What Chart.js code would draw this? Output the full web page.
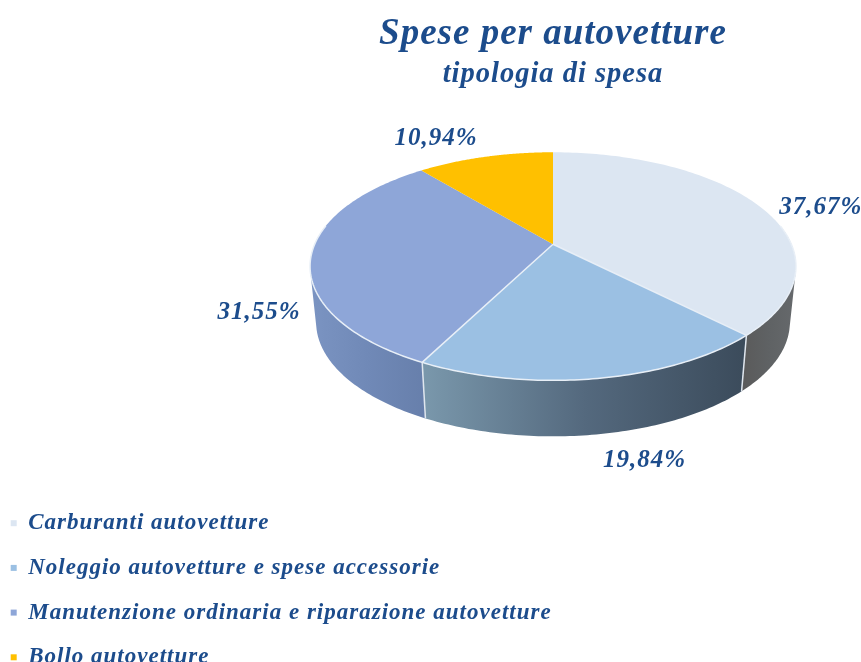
<!DOCTYPE html>
<html>
<head>
<meta charset="utf-8">
<title>Spese per autovetture</title>
<script src="https://cdn.jsdelivr.net/npm/chart.js@4"></script>
<style>
  html, body { margin: 0; padding: 0; background: #fff; }
  #wrap { width: 861px; height: 662px; overflow: hidden; }
</style>
</head>
<body>
<div id="wrap"><canvas id="chart" width="861" height="662"></canvas></div>
<script>
const categories = [
  "Carburanti autovetture",
  "Noleggio autovetture e spese accessorie",
  "Manutenzione ordinaria e riparazione autovetture",
  "Bollo autovetture"
];
const values = [37.67, 19.84, 31.55, 10.94];
const sliceColors = ["#dce6f2", "#9bc0e3", "#8ea6d8", "#ffc000"];

// side wall shading, left to right, one list per slice
const wallColors = [
  ["#5a5a5a", "#5f6264", "#66696c"],
  ["#7a98ac", "#54697e", "#3b4b5b"],
  ["#7b94c2", "#7089b7", "#677fab"],
  ["#c09000", "#c09000", "#c09000"]
];
// where each percent label sits relative to the rim of its slice
const labelOffsets = [[62, 2], [47, 82], [-52, 56], [-49, -18]];

const textColor = "#1c4c8c";

// fake 3D: the flat pie from Chart.js gets tilted with a small perspective
const tilt = 0.193;
const widthFactor = 1.561;
const heightFactor = 0.719;
const wallDepth = 56;
const wallShrink = 0.975;

function project(arc, angle) {
  const u = Math.cos(angle);
  const v = Math.sin(angle);
  const w = 1 - tilt * v;
  return {
    x: arc.x + (arc.outerRadius * widthFactor * u) / w,
    y: arc.y + (arc.outerRadius * heightFactor * v) / w
  };
}

function projectBottom(arc, angle) {
  const p = project(arc, angle);
  return { x: arc.x + (p.x - arc.x) * wallShrink, y: p.y + wallDepth };
}

// adds a quad to the current path, always wound the same way so overlaps add up
function addQuad(ctx, pts) {
  let area = 0;
  pts.forEach((p, i) => {
    const q = pts[(i + 1) % pts.length];
    area += p.x * q.y - q.x * p.y;
  });
  const quad = area < 0 ? pts.slice().reverse() : pts;
  quad.forEach((p, i) => (i ? ctx.lineTo(p.x, p.y) : ctx.moveTo(p.x, p.y)));
  ctx.closePath();
}

const pie3d = {
  id: "pie3d",
  beforeLayout(chart) {
    // legend floats under the pie, it must not eat the chart area
    const legend = chart.legend;
    const fit = legend.fit;
    legend.fit = function () {
      fit.call(this);
      this.width = 0;
    };
  },
  afterLayout(chart) {
    const legend = chart.legend;
    legend.left = -11;
    legend.right = 861;
    legend.top = 490;
    legend.bottom = 760;
  },
  beforeDraw(chart) {
    chart.ctx.letterSpacing = "1px";
  },
  beforeDatasetDraw(chart) {
    const ctx = chart.ctx;
    const arcs = chart.getDatasetMeta(0).data;
    const first = -10 * Math.PI / 180;
    const last = 190 * Math.PI / 180;

    // side walls, all quads of a slice in one path so the outer silhouette stays straight
    arcs.forEach((arc, i) => {
      const start = Math.max(arc.startAngle, first);
      const end = Math.min(arc.endAngle, last);
      if (end <= start) return;
      const top = [];
      const bottom = [];
      for (let k = 0; k <= 80; k++) {
        const a = start + ((end - start) * k) / 80;
        top.push(project(arc, a));
        bottom.push(projectBottom(arc, a));
      }
      const xs = top.concat(bottom).map((p) => p.x);
      const grad = ctx.createLinearGradient(Math.min(...xs), 0, Math.max(...xs), 0);
      grad.addColorStop(0, wallColors[i][0]);
      grad.addColorStop(0.5, wallColors[i][1]);
      grad.addColorStop(1, wallColors[i][2]);
      ctx.fillStyle = grad;
      ctx.beginPath();
      for (let k = 0; k < 80; k++) {
        addQuad(ctx, [top[k], top[k + 1], bottom[k + 1], bottom[k]]);
      }
      ctx.fill();
    });

    // light seams between the walls
    arcs.forEach((arc) => {
      if (arc.endAngle > first && arc.endAngle < last) {
        const a = project(arc, arc.endAngle);
        const b = projectBottom(arc, arc.endAngle);
        ctx.beginPath();
        ctx.moveTo(a.x, a.y);
        ctx.lineTo(b.x, b.y);
        ctx.strokeStyle = "#dfe6ee";
        ctx.lineWidth = 1.5;
        ctx.stroke();
      }
    });

    // top faces
    arcs.forEach((arc) => {
      ctx.beginPath();
      ctx.moveTo(arc.x, arc.y);
      for (let k = 0; k <= 120; k++) {
        const a = arc.startAngle + ((arc.endAngle - arc.startAngle) * k) / 120;
        const p = project(arc, a);
        ctx.lineTo(p.x, p.y);
      }
      ctx.closePath();
      ctx.fillStyle = arc.options.backgroundColor;
      ctx.fill();
    });

    // light rim along the front and the seams on the top face
    arcs.forEach((arc) => {
      const start = Math.max(arc.startAngle, first);
      const end = Math.min(arc.endAngle, last);
      ctx.strokeStyle = "#e8eff7";
      ctx.lineWidth = 1.5;
      if (end > start) {
        ctx.beginPath();
        for (let k = 0; k <= 80; k++) {
          const p = project(arc, start + ((end - start) * k) / 80);
          k ? ctx.lineTo(p.x, p.y) : ctx.moveTo(p.x, p.y);
        }
        ctx.stroke();
      }
      if (arc.endAngle > first && arc.endAngle < last) {
        const p = project(arc, arc.endAngle);
        ctx.beginPath();
        ctx.moveTo(arc.x, arc.y);
        ctx.lineTo(p.x, p.y);
        ctx.stroke();
      }
    });

    // percent labels
    ctx.save();
    ctx.font = "italic bold 25px 'Liberation Serif'";
    ctx.fillStyle = textColor;
    ctx.textAlign = "center";
    ctx.textBaseline = "middle";
    arcs.forEach((arc, i) => {
      const p = project(arc, (arc.startAngle + arc.endAngle) / 2);
      const text = values[i].toFixed(2).replace(".", ",") + "%";
      ctx.fillText(text, p.x + labelOffsets[i][0], p.y + labelOffsets[i][1]);
    });
    ctx.restore();
    return false;
  }
};

new Chart(document.getElementById("chart"), {
  type: "pie",
  data: {
    labels: categories,
    datasets: [
      {
        data: values,
        backgroundColor: sliceColors,
        borderWidth: 0
      }
    ]
  },
  options: {
    responsive: false,
    animation: false,
    events: [],
    layout: { padding: { left: 245, top: 0, right: 0, bottom: 265 } },
    plugins: {
      title: {
        display: true,
        text: "Spese per autovetture",
        color: textColor,
        font: { family: "'Liberation Serif'", size: 37, style: "italic", weight: "bold" },
        padding: { top: 12, bottom: 0 }
      },
      subtitle: {
        display: true,
        text: "tipologia di spesa",
        color: textColor,
        font: { family: "'Liberation Serif'", size: 28.5, style: "italic", weight: "bold" },
        padding: { top: 1, bottom: 0 }
      },
      legend: {
        position: "left",
        align: "start",
        labels: {
          color: textColor,
          font: { family: "'Liberation Serif'", size: 23, style: "italic", weight: "bold" },
          usePointStyle: true,
          pointStyle: "rect",
          boxWidth: 6,
          boxHeight: 6,
          padding: 21.7
        }
      },
      tooltip: { enabled: false }
    }
  },
  plugins: [pie3d]
});
</script>
</body>
</html>
